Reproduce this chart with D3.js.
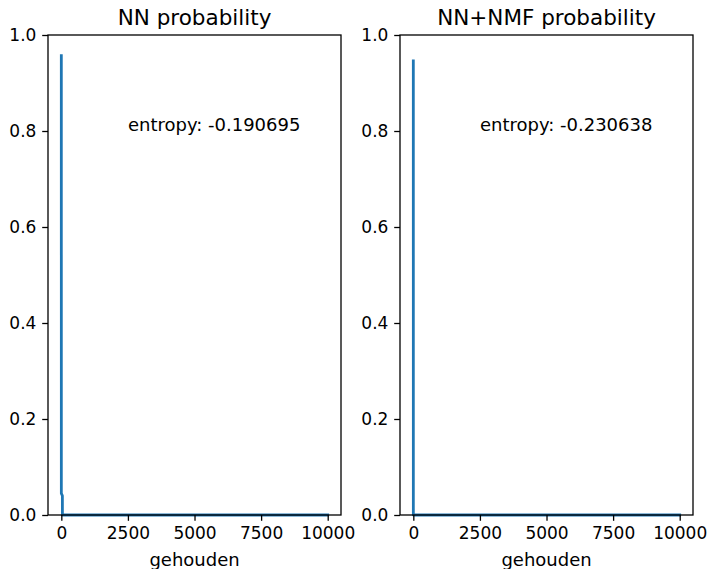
<!DOCTYPE html>
<html>
<head>
<meta charset="utf-8">
<script src="https://cdn.jsdelivr.net/npm/d3@7"></script>
<style>
  body { margin: 0; background: #fff; }
  svg text { font-family: "DejaVu Sans", sans-serif; fill: #000; }
</style>
</head>
<body>
<div id="chart"></div>
<script>
// ---- data ----
const titles = ['NN probability', 'NN+NMF probability'];
const entropyLabels = ['entropy: -0.190695', 'entropy: -0.230638'];
const xLabel = 'gehouden';

// sparse probability curves (index -> probability), zero elsewhere
const nnIndex = [0, 1, 40, 41, 9999];
const nnProb = [0.957, 0.045, 0.04, 0.0, 0.0];
const nmfIndex = [0, 1, 9999];
const nmfProb = [0.946, 0.0, 0.0];

const xTicks = [0, 2500, 5000, 7500, 10000];
const yTicks = [0, 0.2, 0.4, 0.6, 0.8, 1.0];
const entropyPos = [2500, 0.8];

const series = [
  { idx: nnIndex, prob: nnProb },
  { idx: nmfIndex, prob: nmfProb }
];

const W = 711, H = 569;
const panels = [
  { left: 48, right: 341 },
  { left: 400, right: 693 }
];
const plotTop = 35, plotBottom = 515;
const tickLen = 5.8;
const fs = 17;

const svg = d3.select('#chart').append('svg')
  .attr('width', W).attr('height', H);

series.forEach((s, i) => {
  const p = panels[i];
  const x = d3.scaleLinear().domain([-500, 10499]).range([p.left, p.right]);
  const y = d3.scaleLinear().domain([0, 1]).range([plotBottom, plotTop]);

  const g = svg.append('g');

  // line
  const pts = s.idx.map((d, k) => [d, s.prob[k]]);
  g.append('path')
    .datum(pts)
    .attr('fill', 'none')
    .attr('stroke', '#1f77b4')
    .attr('stroke-width', 2.8)
    .attr('stroke-linejoin', 'round')
    .attr('stroke-linecap', 'square')
    .attr('d', d3.line().x(d => x(d[0])).y(d => y(d[1])));

  // axes frame
  g.append('rect')
    .attr('x', p.left).attr('y', plotTop)
    .attr('width', p.right - p.left).attr('height', plotBottom - plotTop)
    .attr('fill', 'none').attr('stroke', '#000').attr('stroke-width', 1.3);

  // x axis
  const xAxis = g.append('g')
    .attr('transform', `translate(0,${plotBottom})`)
    .call(d3.axisBottom(x).tickValues(xTicks).tickSize(tickLen).tickPadding(5.8)
      .tickFormat(d3.format('d')));
  xAxis.select('.domain').remove();
  xAxis.selectAll('line').attr('stroke', '#000').attr('stroke-width', 1.3);
  xAxis.selectAll('text').attr('font-size', fs).attr('fill', '#000')
    .attr('font-family', '"DejaVu Sans", sans-serif');

  // y axis
  const yAxis = g.append('g')
    .attr('transform', `translate(${p.left},0)`)
    .call(d3.axisLeft(y).tickValues(yTicks).tickSize(tickLen).tickPadding(5.8)
      .tickFormat(d3.format('.1f')));
  yAxis.select('.domain').remove();
  yAxis.selectAll('line').attr('stroke', '#000').attr('stroke-width', 1.3);
  yAxis.selectAll('text').attr('font-size', fs).attr('fill', '#000')
    .attr('font-family', '"DejaVu Sans", sans-serif');

  // title
  g.append('text')
    .attr('x', (p.left + p.right) / 2).attr('y', 25)
    .attr('text-anchor', 'middle').attr('font-size', 21.5)
    .text(titles[i]);

  // x label
  g.append('text')
    .attr('x', (p.left + p.right) / 2).attr('y', 566)
    .attr('text-anchor', 'middle').attr('font-size', 18)
    .text(xLabel);

  // entropy annotation
  g.append('text')
    .attr('x', x(entropyPos[0])).attr('y', y(entropyPos[1]))
    .attr('font-size', 18)
    .text(entropyLabels[i]);
});
</script>
</body>
</html>
